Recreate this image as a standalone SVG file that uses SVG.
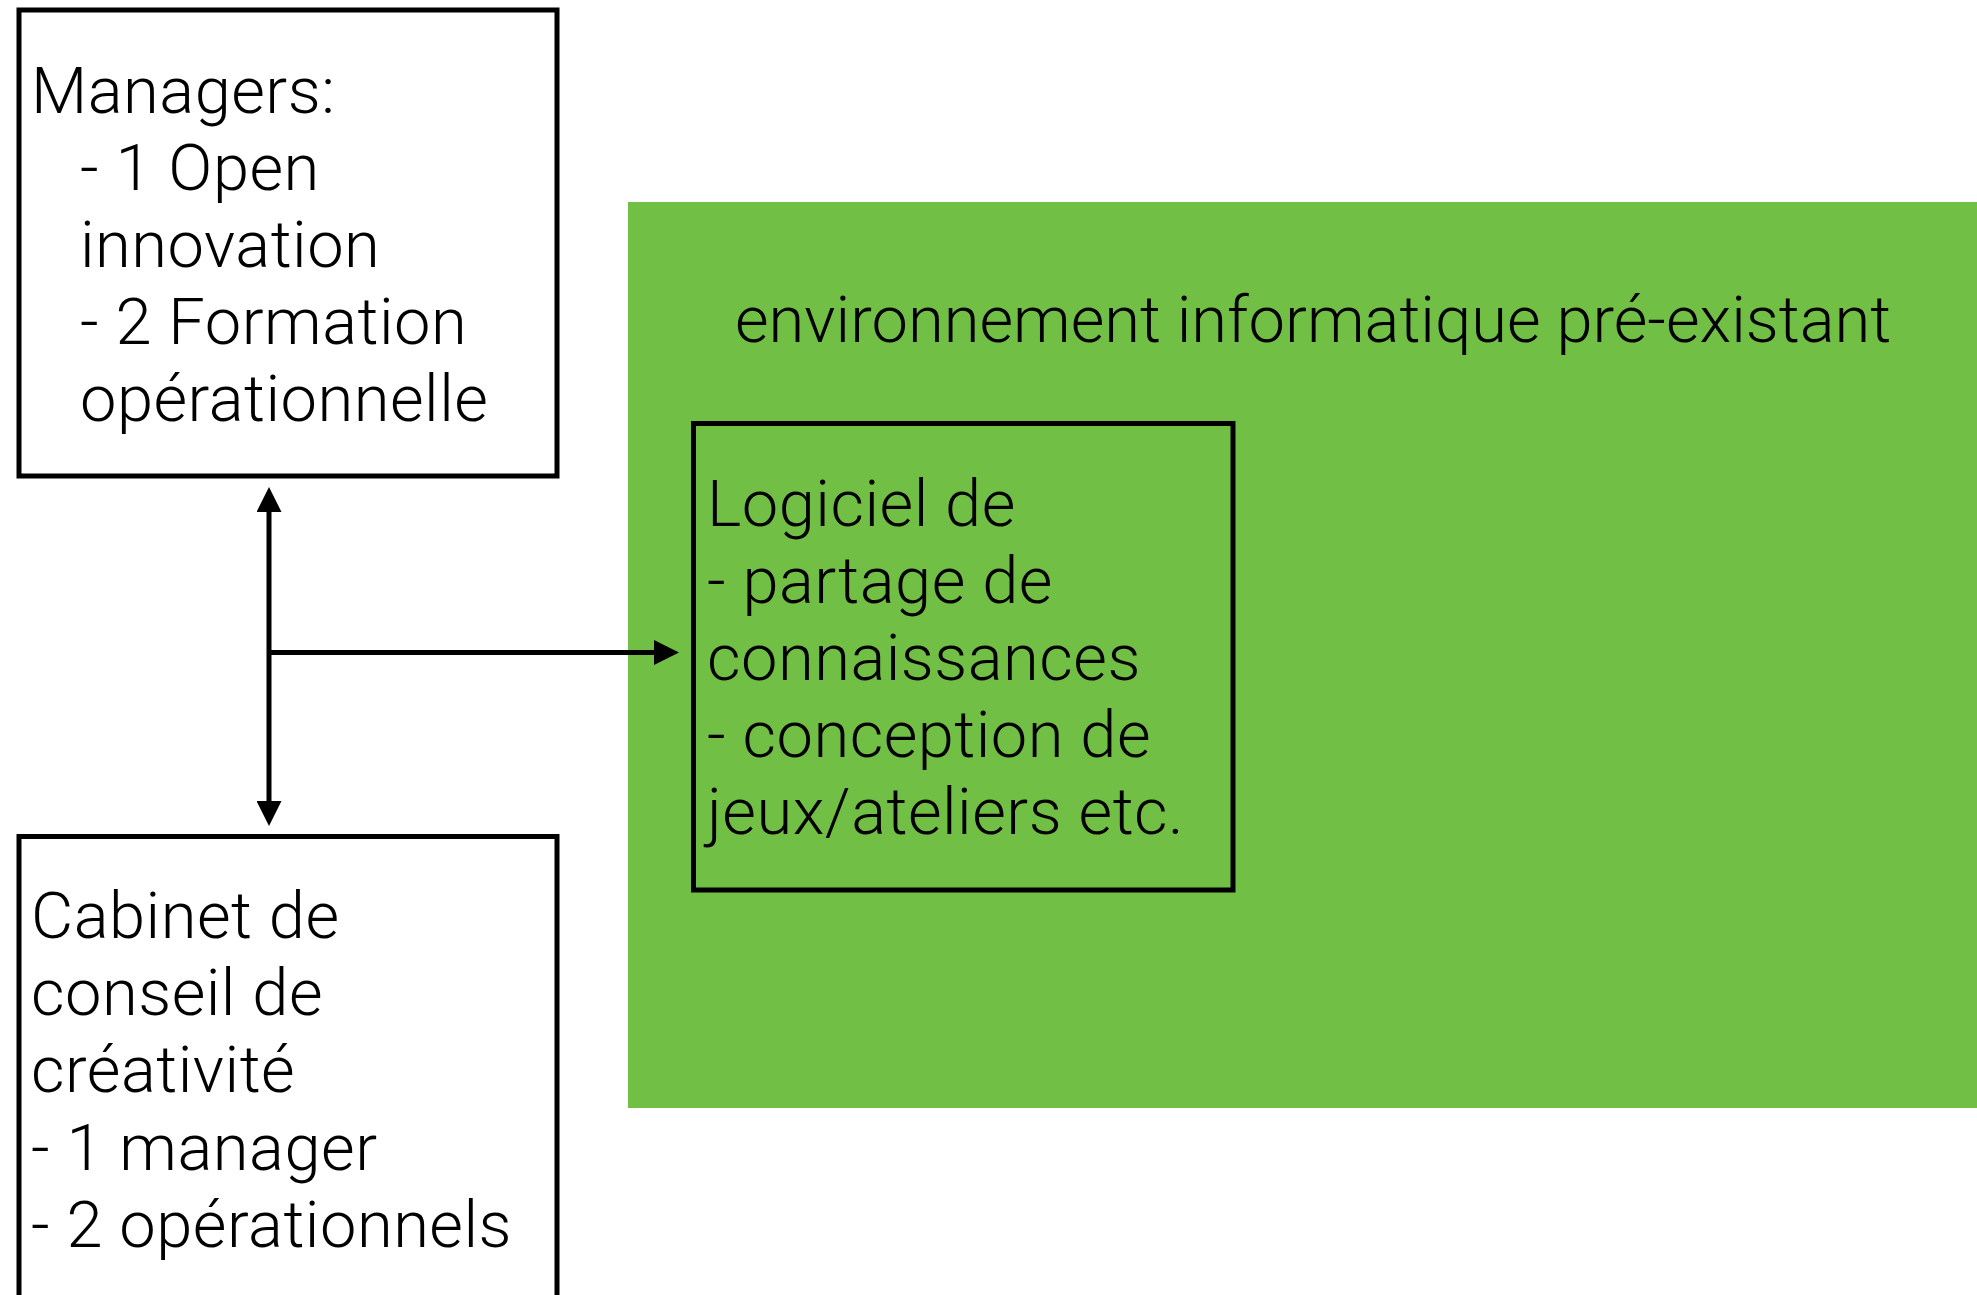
<svg xmlns="http://www.w3.org/2000/svg" width="1977" height="1295" viewBox="0 0 1977 1295">
  <style>
    .box { fill: #ffffff; stroke: #000000; stroke-width: 5; }
    .inner { fill: none; stroke: #000000; stroke-width: 5; }
    .txt { font-family: Roboto, "Liberation Sans", sans-serif; font-weight: 300; font-size: 65px; letter-spacing: 0.5px; fill: #000000; }
    .title { letter-spacing: 0; }
    .conn { fill: none; stroke: #000000; stroke-width: 5; }
  </style>
  <defs>
    <marker id="arrow" viewBox="0 0 25 25" refX="1" refY="12.5" markerWidth="25" markerHeight="25" markerUnits="userSpaceOnUse" orient="auto-start-reverse">
      <path d="M0,0 L25,12.5 L0,25 z" fill="#000000"/>
    </marker>
  </defs>
  <rect width="1977" height="1295" fill="#ffffff"/>

  <g id="environnement">
    <rect x="628" y="202" width="1349" height="906" fill="#71BF44"/>
    <text class="txt title" x="735" y="342">environnement informatique pré-existant</text>
  </g>

  <g id="managers">
    <rect class="box" x="19" y="10" width="538" height="466"/>
    <text class="txt" x="31" y="113">Managers:</text>
    <text class="txt" x="80" y="190">- 1 Open</text>
    <text class="txt" x="80" y="267">innovation</text>
    <text class="txt" x="80" y="344">- 2 Formation</text>
    <text class="txt" x="80" y="421">opérationnelle</text>
  </g>

  <g id="cabinet">
    <rect class="box" x="19" y="836.5" width="538" height="520"/>
    <text class="txt" x="31" y="938">Cabinet de</text>
    <text class="txt" x="31" y="1015">conseil de</text>
    <text class="txt" x="31" y="1092">créativité</text>
    <text class="txt" x="31" y="1170">- 1 manager</text>
    <text class="txt" x="31" y="1247">- 2 opérationnels</text>
  </g>

  <g id="logiciel">
    <rect class="inner" x="693.5" y="423.5" width="539.5" height="466.5"/>
    <text class="txt" x="707" y="526">Logiciel de</text>
    <text class="txt" x="707" y="603">- partage de</text>
    <text class="txt" x="707" y="680">connaissances</text>
    <text class="txt" x="707" y="757">- conception de</text>
    <text class="txt" x="707" y="834">jeux/ateliers etc.</text>
  </g>

  <g id="connectors">
    <path class="conn" d="M269,511 L269,802" marker-start="url(#arrow)" marker-end="url(#arrow)"/>
    <path class="conn" d="M269,652.5 L655,652.5" marker-end="url(#arrow)"/>
  </g>
</svg>
